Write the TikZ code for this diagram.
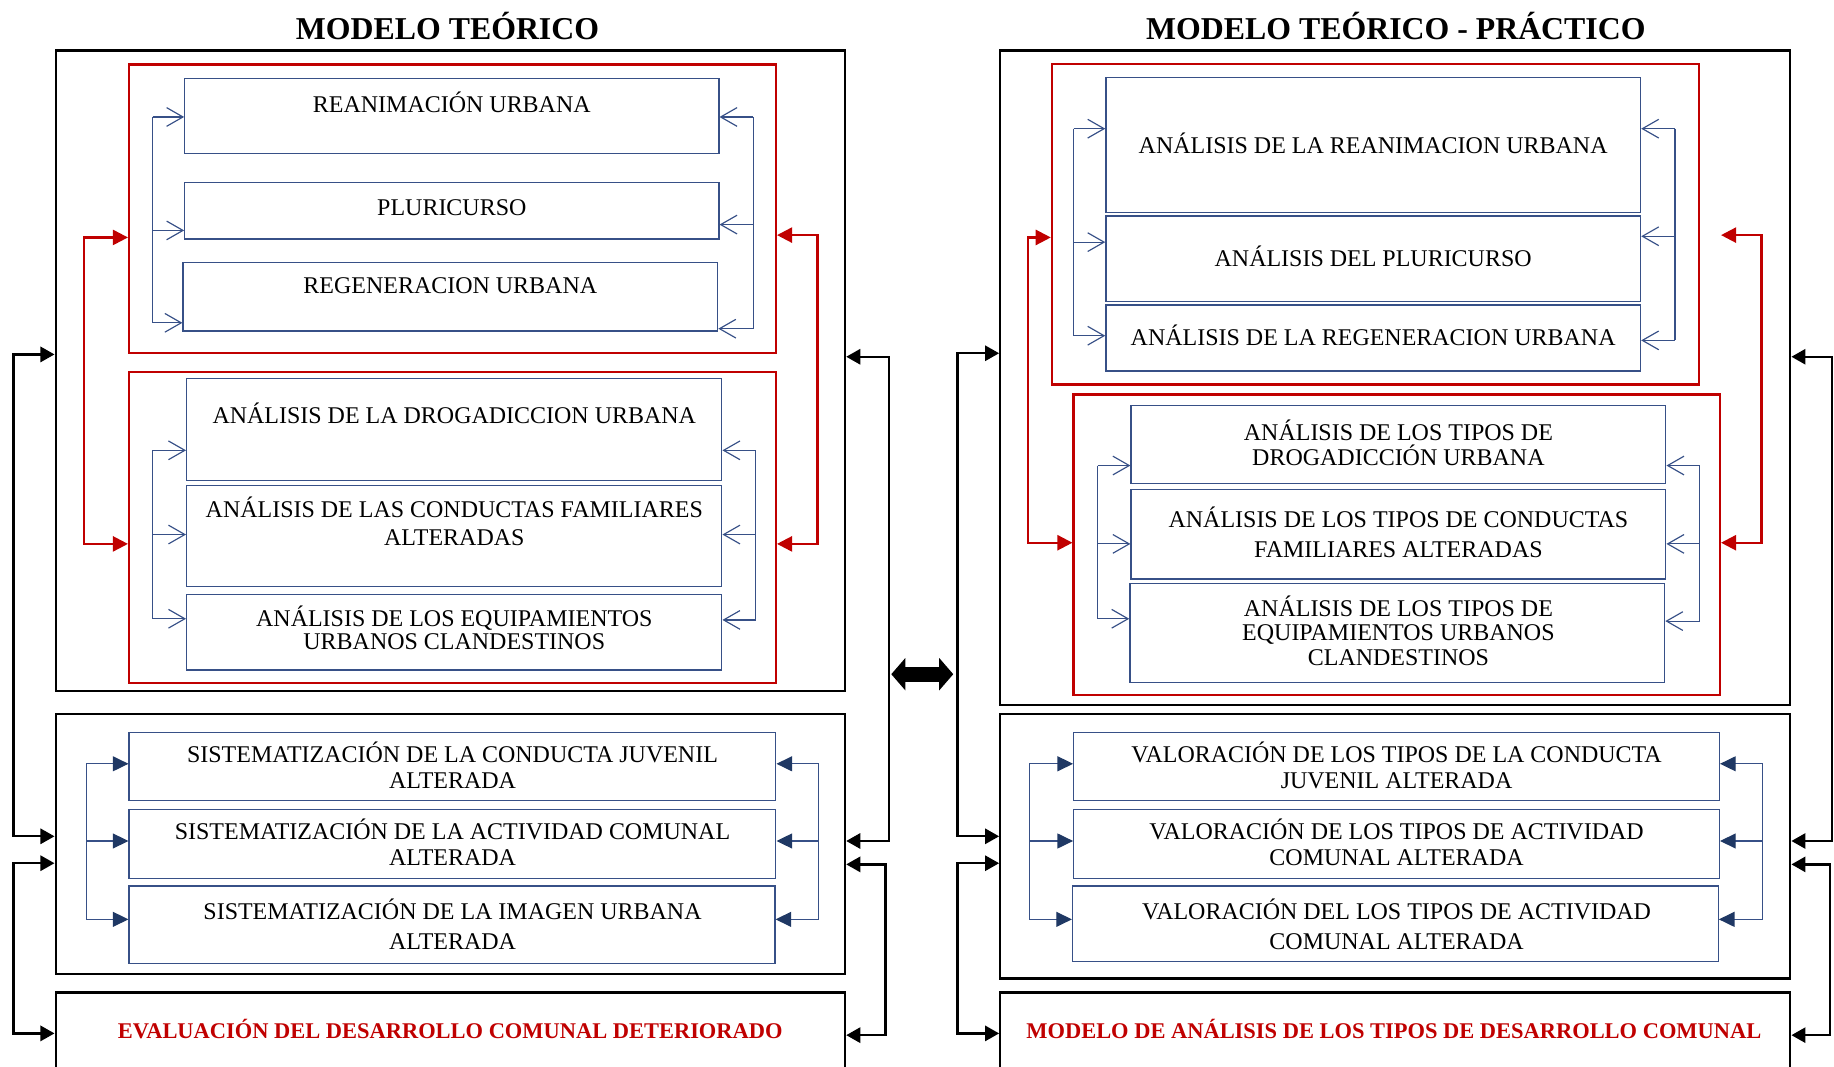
\documentclass[tikz,border=0pt]{standalone}
\usepackage{fontspec}
\setmainfont{Liberation Serif}
\usetikzlibrary{fit,arrows.meta}
\definecolor{bblue}{RGB}{55,80,135}
\definecolor{nblue}{RGB}{31,56,100}
\definecolor{dred}{RGB}{192,0,0}
\newcommand{\ms}{\rule[-3pt]{0pt}{12.8pt}}
\newcommand{\bus}[9]{%
  \draw[bline] (#2,#3) -- (#2,#5);
  \draw[#1] (#2,#3) -- (#6.#9 |- #2,#3);
  \draw[#1] (#2,#4) -- (#7.#9 |- #2,#4);
  \draw[#1] (#2,#5) -- (#8.#9 |- #2,#5);
}
\tikzset{
  outer/.style={draw=black,line width=1pt,inner sep=0pt},
  redbox/.style={draw=dred,line width=1pt,inner sep=0pt},
  bbox/.style={draw=bblue,line width=0.55pt,inner sep=0pt},
  txt/.style={font={\fontsize{10.25}{#1}\selectfont\lineskiplimit=-20pt}, align=center, inner sep=0pt},
  txt/.default=11pt,
  ttl/.style={font={\fontsize{13.6}{16}\selectfont\bfseries}, inner sep=0pt, anchor=base},
  redtxt/.style={font={\fontsize{9.6}{11}\selectfont\bfseries}, text=dred, inner sep=0pt},
  bline/.style={draw=bblue,line width=0.5pt},
  otip/.style={bline,-{Straight Barb[length=7pt,width=8pt]}},
  ftip/.style={bline,-{Triangle[length=6.7pt,width=6.4pt,color=nblue]}},
  blk/.style={draw=black,line width=1pt,{Triangle[length=6pt,width=6.5pt]}-{Triangle[length=6pt,width=6.5pt]}},
  redc/.style={draw=dred,line width=1pt,{Triangle[length=6.5pt,width=6.5pt]}-{Triangle[length=6.5pt,width=6.5pt]}},
  fat/.style={draw=black,line width=6.5pt,{Triangle[length=6pt,width=13.5pt]}-{Triangle[length=6pt,width=13.5pt]}},
}
\begin{document}
\begin{tikzpicture}[x=0.5pt,y=-0.5pt]
\useasboundingbox (0,0) rectangle (1568,912);
\clip (0,0) rectangle (1568,912);

% ---------------- titles
\node[ttl] (tl) at (382.6,33.8) {MODELO TEÓRICO};
\node[ttl] (tr) at (1193.4,33.8) {MODELO TEÓRICO - PRÁCTICO};

% ---------------- left panel
\node[outer, fit={(47.6,43.3)(722.5,590.5)}] (L1) {};
\node[outer, fit={(47.6,610.7)(722.5,832.8)}] (L2) {};
\node[outer, fit={(47.6,848.4)(722.5,960)}] (L3) {};

\node[redbox, fit={(110.4,55)(663.3,302)}] (rA) {};
\node[redbox, fit={(110.4,317.8)(663.3,583.7)}] (rB) {};

\node[bbox, fit={(158,67)(614.6,131)}] (r1) {};
\node[bbox, fit={(158,156.2)(614.6,204.3)}] (r2) {};
\node[bbox, fit={(156.5,224.6)(613.6,283)}] (r3) {};
\node[txt] (r1t) at (386.3,89.5) {\ms REANIMACIÓN URBANA};
\node[txt] (r2t) at (386.3,177.8) {\ms PLURICURSO};
\node[txt] (r3t) at (385,243.7) {\ms REGENERACION URBANA};

\node[bbox, fit={(159.6,323.5)(617.1,411)}] (d1) {};
\node[bbox, fit={(159.6,415.3)(617.1,501.6)}] (d2) {};
\node[bbox, fit={(159.6,508.2)(617.1,572.8)}] (d3) {};
\node[txt] (d1t) at (388.4,355.1) {\ms ANÁLISIS DE LA DROGADICCION URBANA};
\node[txt=11.8pt] (d2t) at (388.4,447.8) {\ms ANÁLISIS DE LAS CONDUCTAS FAMILIARES\\\ms ALTERADAS};
\node[txt=9.9pt] (d3t) at (388.4,538.4) {\ms ANÁLISIS DE LOS EQUIPAMIENTOS\\\ms URBANOS CLANDESTINOS};

\node[bbox, fit={(110.4,626.1)(663.3,684.6)}] (s1) {};
\node[bbox, fit={(110.4,692)(663.3,751)}] (s2) {};
\node[bbox, fit={(110.4,757.5)(662.5,823.6)}] (s3) {};
\node[txt=11pt] (s1t) at (386.9,656.3) {\ms SISTEMATIZACIÓN DE LA CONDUCTA JUVENIL\\\ms ALTERADA};
\node[txt=10.9pt] (s2t) at (386.9,722) {\ms SISTEMATIZACIÓN DE LA ACTIVIDAD COMUNAL\\\ms ALTERADA};
\node[txt=12.8pt] (s3t) at (386.9,792) {\ms SISTEMATIZACIÓN DE LA IMAGEN URBANA\\\ms ALTERADA};

\node[redtxt] (evt) at (385,881.3) {\ms EVALUACIÓN DEL DESARROLLO COMUNAL DETERIORADO};

% ---------------- right panel
\node[outer, fit={(855.2,43.3)(1530.6,602.8)}] (R1) {};
\node[outer, fit={(855.2,610.7)(1530.6,836.5)}] (R2) {};
\node[outer, fit={(855.2,848.4)(1530.6,960)}] (R3) {};

\node[redbox, fit={(899.4,54.7)(1452.8,328.6)}] (qA) {};
\node[redbox, fit={(917.9,337.2)(1470.4,594.2)}] (qB) {};

\node[bbox, fit={(945.5,66.4)(1402.6,181.5)}] (a1) {};
\node[bbox, fit={(945.5,184.7)(1402.6,257.9)}] (a2) {};
\node[bbox, fit={(945.5,260.8)(1402.6,317.2)}] (a3) {};
\node[txt] (a1t) at (1174,124.2) {\ms ANÁLISIS DE LA REANIMACION URBANA};
\node[txt] (a2t) at (1174,221.2) {\ms ANÁLISIS DEL PLURICURSO};
\node[txt] (a3t) at (1174,289) {\ms ANÁLISIS DE LA REGENERACION URBANA};

\node[bbox, fit={(967,346.8)(1424.2,413.2)}] (b1) {};
\node[bbox, fit={(967,418.4)(1424.2,495.1)}] (b2) {};
\node[bbox, fit={(966,498.8)(1423.2,583.7)}] (b3) {};
\node[txt=10.7pt] (b1t) at (1195.6,380.5) {\ms ANÁLISIS DE LOS TIPOS DE\\\ms DROGADICCIÓN URBANA};
\node[txt=12.8pt] (b2t) at (1195.6,456.7) {\ms ANÁLISIS DE LOS TIPOS DE CONDUCTAS\\\ms FAMILIARES ALTERADAS};
\node[txt=10.45pt] (b3t) at (1195.6,541) {\ms ANÁLISIS DE LOS TIPOS DE\\\ms EQUIPAMIENTOS URBANOS\\\ms CLANDESTINOS};

\node[bbox, fit={(918,626.1)(1470,684.6)}] (v1) {};
\node[bbox, fit={(918,692)(1470,751)}] (v2) {};
\node[bbox, fit={(917,757.5)(1469,822.2)}] (v3) {};
\node[txt=11pt] (v1t) at (1194,656.3) {\ms VALORACIÓN DE LOS TIPOS DE LA CONDUCTA\\\ms JUVENIL ALTERADA};
\node[txt=10.9pt] (v2t) at (1194,722) {\ms VALORACIÓN DE LOS TIPOS DE ACTIVIDAD\\\ms COMUNAL ALTERADA};
\node[txt=12.8pt] (v3t) at (1194,792) {\ms VALORACIÓN DEL LOS TIPOS DE ACTIVIDAD\\\ms COMUNAL ALTERADA};

\node[redtxt] (mot) at (1191.7,881.3) {\ms MODELO DE ANÁLISIS DE LOS TIPOS DE DESARROLLO COMUNAL};

% ---------------- blue buses
\bus{otip}{130.5}{100}{197}{276}{r1}{r2}{r3}{west}
\bus{otip}{644}{100}{192}{281}{r1}{r2}{r3}{east}
\bus{otip}{130.5}{385}{457}{529}{d1}{d2}{d3}{west}
\bus{otip}{646}{385}{457}{530}{d1}{d2}{d3}{east}
\bus{ftip}{73.7}{653}{719}{786}{s1}{s2}{s3}{west}
\bus{ftip}{700}{653}{719}{786}{s1}{s2}{s3}{east}

\bus{otip}{918}{110}{207}{287}{a1}{a2}{a3}{west}
\bus{otip}{1432}{110}{202}{291}{a1}{a2}{a3}{east}
\bus{otip}{938.5}{398}{465}{529}{b1}{b2}{b3}{west}
\bus{otip}{1453}{398}{465}{531}{b1}{b2}{b3}{east}
\bus{ftip}{880}{653}{719}{786}{v1}{v2}{v3}{west}
\bus{ftip}{1507}{653}{719}{786}{v1}{v2}{v3}{east}

% ---------------- red connectors
\draw[redc] (rA.west |- 0,203) -- (72,203) |- (rB.west |- 0,465);
\draw[redc] (rA.east |- 0,201) -- (699,201) |- (rB.east |- 0,465);
\draw[redc] (qA.west |- 0,203) -- (879,203) |- (qB.west |- 0,464);
\draw[redc] (qB.east |- 0,201) -- (1506,201) |- (qB.east |- 0,464);

% ---------------- black connectors
\draw[blk] (L1.west |- 0,303) -- (11.4,303) |- (L2.west |- 0,715);
\draw[blk] (L2.west |- 0,738) -- (11.4,738) |- (L3.west |- 0,883.5);
\draw[blk] (L1.east |- 0,305) -- (760,305) |- (L2.east |- 0,719);
\draw[blk] (L2.east |- 0,739) -- (757,739) |- (L3.east |- 0,885);

\draw[blk] (R1.west |- 0,302) -- (818.5,302) |- (R2.west |- 0,715);
\draw[blk] (R2.west |- 0,738) -- (818.5,738) |- (R3.west |- 0,883.5);
\draw[blk] (R1.east |- 0,305) -- (1566.3,305) |- (R2.east |- 0,719);
\draw[blk] (R2.east |- 0,739) -- (1564.7,739) |- (R3.east |- 0,885);

% ---------------- middle double arrow
\coordinate (m1) at (762,576.4);
\coordinate (m2) at (815,576.4);
\draw[fat] (m1) -- (m2);
\end{tikzpicture}
\end{document}
